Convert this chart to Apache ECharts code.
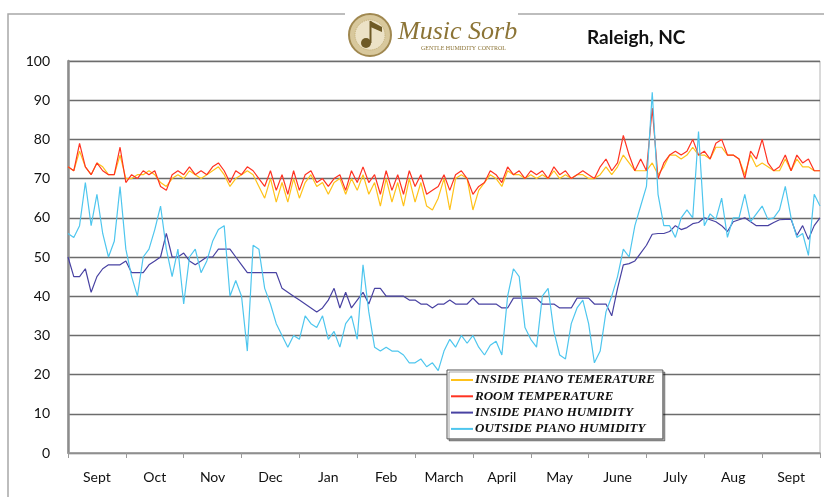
<!DOCTYPE html>
<html>
<head>
<meta charset="utf-8">
<script src="https://cdn.jsdelivr.net/npm/echarts@6/dist/echarts.min.js"></script>
<style>
  html, body { margin: 0; padding: 0; background: #fff; }
  #chart { width: 824px; height: 497px; }
</style>
</head>
<body>
<div id="chart"></div>
<script>
  // month labels on the x axis
  var months = ['Sept', 'Oct', 'Nov', 'Dec', 'Jan', 'Feb', 'March', 'April', 'May', 'June', 'July', 'Aug', 'Sept']
  var yTicks = [0, 10, 20, 30, 40, 50, 60, 70, 80, 90, 100]

  // readings, roughly every 3 days, Sept -> Sept
  var insidePianoTemp = [
    73,72,77,73,71,74,73,71,71,76, 70,70,71,71,72,71,69,68,70,71,
    70,72,71,70,71,72,73,71,68,70, 71,72,71,68,65,70,64,69,64,70,
    65,69,71,68,69,66,69,70,66,70, 67,71,66,69,63,70,64,69,63,70,
    64,69,63,62,65,70,
    62,70,71,70,62,67,69,71,70,68, 72,71,71,70,71,70,71,70,72,70,
    71,70,71,71,70,70,71,73,71,73, 76,74,72,72,72,74,71,73,76,76,
    75,76,78,76,76,75,78,78,76,76, 75,71,76,73,74,73,72,72,75,72,
    75,73,73,72,72
  ]
  var roomTemp = [
    73,72,79,73,71,74,72,71,71,78, 69,71,70,72,71,72,68,67,71,72,
    71,73,71,72,71,73,74,72,69,72, 71,73,72,70,68,72,67,71,66,72,
    67,71,72,69,70,68,70,71,67,72, 69,73,69,71,66,72,67,71,66,72,
    68,71,66,67,68,71,
    67,71,72,70,66,68,69,72,71,69, 73,71,72,70,72,71,72,70,73,71,
    72,70,71,72,71,70,73,75,72,74, 81,76,72,75,72,88,70,74,76,77,
    76,77,80,76,77,75,79,80,76,76, 75,70,77,75,80,74,72,73,76,72,
    76,74,75,72,72
  ]
  var insidePianoHumidity = [
    50,45,45,47,41,45,47,48,48,48, 49,46,46,46,48,49,50,56,50,50,
    51,49,48,49,50,50,52,52,52,50, 48,46,46,46,46,46,46,42,41,40,
    39,38,37,36,37,39,42,37,41,37, 39,41,38,42,42,40,40,40,40,39,
    39,38,38,37,38,38,
    39,38,38,38,39.5,38,38,38,38,37, 37,39.5,39.5,39.5,39.5,39.5,38,38,38,37,
    37,37,39.5,39.5,39.5,38,38,38,35,42, 48,48.3,49,51,53,55.8,56,56,56.5,58,
    57,57.5,58.5,58.8,60,59.5,59,58,56.5,59, 59.5,60,59,58,58,58,58.8,59.5,59.6,59.6,
    55.5,58,54.5,58,60
  ]
  var outsidePianoHumidity = [
    56,55,58,69,58,66,56,50,54,68, 52,45,40,50,52,57,63,52,45,52,
    38,50,52,46,49,54,57,58,40,44, 40,26,53,52,42,38,33,30,27,30,
    29,35,33,32,35,29,31,27,33,35, 29,48,36,27,26,27,26,26,25,23,
    23,24,22,23,21,26,
    29,27,30,28,30,27,25,27.5,28.5,25, 40,47,45,32,29,27,40,42,31,25,
    24,33,37,39,33,23,26,36,40,45, 52,50,58,63,68,92,66,58,58,55,
    60,62,60,82,58,61,59.6,65,55,60, 60,66,59,61,63,59.6,60,62,68,60,
    55,56,50.4,66,63
  ]

  var days = insidePianoTemp.map(function (v, i) { return i })

  var myChart = echarts.init(document.getElementById('chart'))

  var lineStyle = function (c) {
    return { color: c, width: 1.2 }
  }

  var option = {
    animation: false,
    backgroundColor: '#fff',
    title: {
      text: 'Raleigh, NC',
      left: 582,
      top: 23,
      textStyle: { fontFamily: 'Lato', fontWeight: 'bold', fontSize: 19, color: '#111' }
    },
    graphic: [
      // outer frame
      { type: 'rect', z: -1, shape: { x: 8, y: 14, width: 830, height: 500 },
        style: { fill: 'none', stroke: '#a8a8a8', lineWidth: 1.5 } },
      // logo
      { type: 'rect', z: 10, shape: { x: 345, y: 10, width: 173, height: 49 }, style: { fill: '#fff' } },
      { type: 'circle', z: 11, shape: { cx: 370, cy: 35, r: 21 }, style: { fill: '#d8c89c', stroke: '#a08850', lineWidth: 2 } },
      { type: 'circle', z: 11, shape: { cx: 370, cy: 35, r: 15 }, style: { fill: '#ece2c6', stroke: '#c4b07a', lineWidth: 1, lineDash: [1, 1] } },
      { type: 'circle', z: 12, shape: { cx: 366, cy: 43, r: 5 }, style: { fill: '#6e5a26' } },
      { type: 'line', z: 12, shape: { x1: 370.5, y1: 43, x2: 370.5, y2: 21 }, style: { stroke: '#6e5a26', lineWidth: 2 } },
      { type: 'polygon', z: 12, shape: { points: [[370.5, 21], [382, 27], [382, 32], [370.5, 27]] }, style: { fill: '#6e5a26' } },
      { type: 'text', z: 12, style: { x: 398, y: 19, text: 'Music Sorb', fill: '#8c7436',
        font: 'italic 26px "Liberation Serif"' } },
      { type: 'text', z: 12, style: { x: 421, y: 45, text: 'GENTLE HUMIDITY CONTROL', fill: '#8c7436',
        font: '6px "Liberation Serif"' } }
    ],
    legend: {
      orient: 'vertical',
      left: 447,
      top: 370,
      padding: [3, 8, 3, 4],
      itemGap: 2.3,
      itemWidth: 22,
      itemHeight: 2,
      icon: 'rect',
      backgroundColor: '#fff',
      borderColor: '#555',
      borderWidth: 1,
      shadowColor: 'rgba(0,0,0,0.35)',
      shadowOffsetX: 2,
      shadowOffsetY: 2,
      textStyle: {
        fontFamily: 'Liberation Serif',
        fontStyle: 'italic',
        fontWeight: 'bold',
        fontSize: 13,
        lineHeight: 14,
        color: '#111',
        padding: [0, 0, 0, -3]
      },
      data: ['INSIDE PIANO TEMERATURE', 'ROOM TEMPERATURE', 'INSIDE PIANO HUMIDITY', 'OUTSIDE PIANO HUMIDITY']
    },
    grid: {
      left: 68,
      right: 4,
      top: 61,
      bottom: 44,
      show: true,
      borderColor: '#b4b4b4',
      borderWidth: 1
    },
    xAxis: [
      {
        type: 'category',
        data: months,
        boundaryGap: true,
        axisLine: { lineStyle: { color: '#9a9a9a', width: 1.5 } },
        axisTick: { show: true, length: 5, lineStyle: { color: '#9a9a9a' } },
        axisLabel: { margin: 17, fontFamily: 'Lato', fontSize: 14, color: '#111' },
        splitLine: { show: false }
      },
      {
        type: 'category',
        data: days,
        boundaryGap: false,
        show: false
      }
    ],
    yAxis: {
      type: 'value',
      min: yTicks[0],
      max: yTicks[yTicks.length - 1],
      interval: 10,
      axisLine: { show: true, lineStyle: { color: '#8c8c8c', width: 2.5 } },
      axisTick: { show: false },
      axisLabel: { margin: 18, fontFamily: 'Lato', fontSize: 14, color: '#111' },
      splitLine: { lineStyle: { color: '#6c6c6c', width: 1.3 } }
    },
    series: [
      { name: 'INSIDE PIANO TEMERATURE', type: 'line', xAxisIndex: 1, data: insidePianoTemp,
        showSymbol: false, symbol: 'none', color: '#ffc21a', lineStyle: lineStyle('#ffc21a') },
      { name: 'ROOM TEMPERATURE', type: 'line', xAxisIndex: 1, data: roomTemp,
        showSymbol: false, symbol: 'none', color: '#ff3322', lineStyle: lineStyle('#ff3322') },
      { name: 'INSIDE PIANO HUMIDITY', type: 'line', xAxisIndex: 1, data: insidePianoHumidity,
        showSymbol: false, symbol: 'none', color: '#4842a2', lineStyle: lineStyle('#4842a2') },
      { name: 'OUTSIDE PIANO HUMIDITY', type: 'line', xAxisIndex: 1, data: outsidePianoHumidity,
        showSymbol: false, symbol: 'none', color: '#4ec6ee', lineStyle: lineStyle('#4ec6ee') }
    ]
  }

  myChart.setOption(option)
</script>
</body>
</html>
